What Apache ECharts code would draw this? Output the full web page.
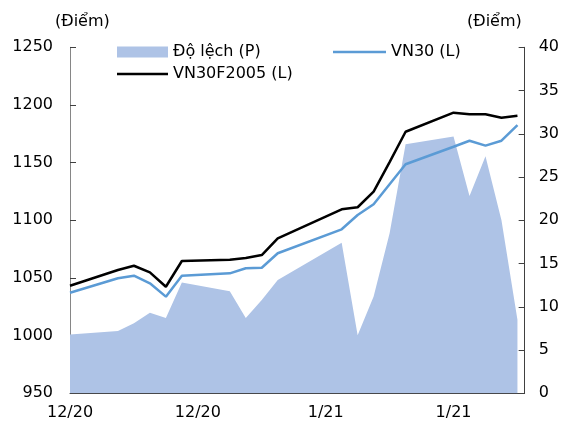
<!DOCTYPE html>
<html>
<head>
<meta charset="utf-8">
<script src="https://cdn.jsdelivr.net/npm/echarts@6/dist/echarts.min.js"></script>
<style>
html,body{margin:0;padding:0;background:#fff;}
#c{width:562px;height:430px;}
</style>
</head>
<body>
<div id="c"></div>
<script>
// ---- data ----
const dates = ['2020-12-18','2020-12-21','2020-12-22','2020-12-23','2020-12-24','2020-12-25',
  '2020-12-28','2020-12-29','2020-12-30','2020-12-31','2021-01-04','2021-01-05','2021-01-06',
  '2021-01-07','2021-01-08','2021-01-11','2021-01-12','2021-01-13','2021-01-14','2021-01-15'];
const vn30f = [1043.3,1056.9,1060.6,1054.9,1042.4,1064.7,1065.8,1067.3,1069.9,1084.4,
  1109.5,1111.3,1124.8,1150.5,1176.8,1193.3,1191.9,1191.9,1189.0,1190.7];
const vn30 = [1037.2,1049.7,1052.0,1045.4,1033.8,1052.0,1054.0,1058.4,1058.9,1071.4,
  1092.2,1104.6,1113.9,1131.2,1148.6,1163.8,1169.0,1164.7,1169.0,1182.6];
const spread = [6.8,7.2,8.1,9.3,8.7,12.8,11.8,8.7,10.8,13.1,
  17.4,6.7,11.2,18.5,28.8,29.7,22.8,27.4,20.0,8.5];
const xTickLabels = ['12/20','12/20','1/21','1/21'];
const seriesNames = ['Độ lệch (P)','VN30 (L)','VN30F2005 (L)'];
const unitLabel = '(Điểm)';

// ---- helpers ----
const DAY = 86400000;
const t0 = Date.parse(dates[0] + 'T00:00:00Z');
const dayIdx = dates.map(d => (Date.parse(d + 'T00:00:00Z') - t0) / DAY);
const pair = arr => arr.map((v, i) => [dayIdx[i], v]);

const AREA = '#AEC3E6', BLUE = '#5B9BD5', BLACK = '#000';
const FONT = 'DejaVu Sans';
const TXT = {fontFamily: FONT, fontSize: 16, color: '#000'};
const chart = echarts.init(document.getElementById('c'), null, {renderer: 'canvas'});

chart.setOption({
  animation: false,
  backgroundColor: '#fff',
  textStyle: {fontFamily: FONT},
  grid: {left: 70, right: 31, top: 47.3, bottom: 36.7, containLabel: false},
  graphic: [
    {type: 'text', left: 55, top: 14, style: {text: unitLabel, font: '16px "DejaVu Sans"', fill: '#000'}},
    {type: 'text', left: 467, top: 14, style: {text: unitLabel, font: '16px "DejaVu Sans"', fill: '#000'}}
  ],
  legend: [
    {data: [{name: seriesNames[0], icon: 'rect', itemStyle: {color: AREA}}], left: 112, top: 39,
     itemWidth: 51, itemHeight: 11, itemGap: 0, textStyle: Object.assign({}, TXT)},
    {data: [{name: seriesNames[1], icon: 'rect', itemStyle: {color: BLUE}}], left: 328, top: 39,
     itemWidth: 53, itemHeight: 2.5, itemGap: 0, textStyle: Object.assign({}, TXT)},
    {data: [{name: seriesNames[2], icon: 'rect', itemStyle: {color: BLACK}}], left: 112, top: 61,
     itemWidth: 51, itemHeight: 2.5, itemGap: 0, textStyle: Object.assign({}, TXT)}
  ],
  xAxis: {
    type: 'value', min: 0, max: 28.45, interval: 8,
    axisLine: {lineStyle: {color: '#404040', width: 1}},
    axisTick: {inside: true, length: 5, lineStyle: {color: '#404040'}},
    axisLabel: Object.assign({}, TXT, {margin: 12, showMaxLabel: false,
      formatter: v => (v % 8 === 0 ? (xTickLabels[v / 8] || '') : '')}),
    splitLine: {show: false}
  },
  yAxis: [
    {type: 'value', min: 950, max: 1250, interval: 50, position: 'left',
     axisLine: {show: true, lineStyle: {color: '#868686', width: 1}},
     axisTick: {show: true, inside: true, length: 6, lineStyle: {color: '#404040'}},
     axisLabel: Object.assign({}, TXT, {margin: 17, formatter: v => String(v)}),
     splitLine: {show: false}},
    {type: 'value', min: 0, max: 40, interval: 5, position: 'right',
     axisLine: {show: true, lineStyle: {color: '#404040', width: 1}},
     axisTick: {show: true, inside: true, length: 6, lineStyle: {color: '#404040'}},
     axisLabel: Object.assign({}, TXT, {margin: 14, formatter: v => String(v)}),
     splitLine: {show: false}}
  ],
  series: [
    {name: seriesNames[0], type: 'line', yAxisIndex: 1, data: pair(spread),
     symbol: 'none', lineStyle: {width: 0, color: AREA}, itemStyle: {color: AREA},
     areaStyle: {color: AREA, opacity: 1}, z: 1},
    {name: seriesNames[1], type: 'line', yAxisIndex: 0, data: pair(vn30),
     symbol: 'none', lineStyle: {width: 2.5, color: BLUE}, itemStyle: {color: BLUE}, z: 3},
    {name: seriesNames[2], type: 'line', yAxisIndex: 0, data: pair(vn30f),
     symbol: 'none', lineStyle: {width: 2.5, color: BLACK}, itemStyle: {color: BLACK}, z: 4}
  ]
});
</script>
</body>
</html>
